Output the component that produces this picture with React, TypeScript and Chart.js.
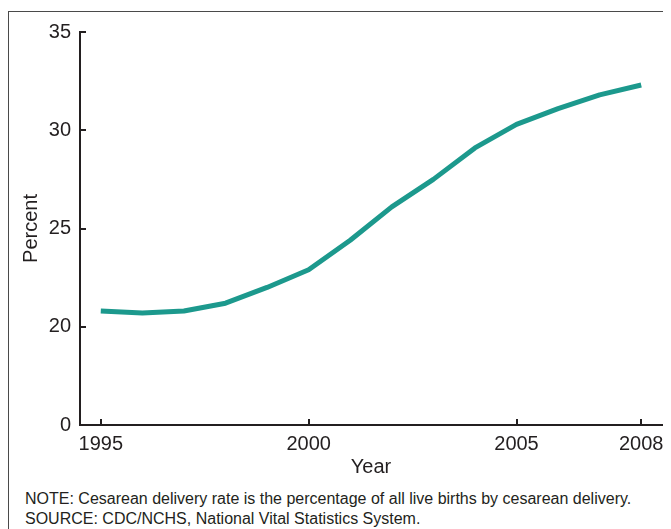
import React, { useEffect, useRef } from "react";
import { Chart, registerables } from "chart.js";

Chart.register(...registerables);

const years = [1995, 1996, 1997, 1998, 1999, 2000, 2001, 2002, 2003, 2004, 2005, 2006, 2007, 2008];
const cesareanRate = [20.8, 20.7, 20.8, 21.2, 22.0, 22.9, 24.4, 26.1, 27.5, 29.1, 30.3, 31.1, 31.8, 32.3];
const xTickValues = [1995, 2000, 2005, 2008];
// broken axis: the bottom tick shows 0 but sits where 15 would be
const yTickValues = [15, 20, 25, 30, 35];
const yTickLabels = ["0", "20", "25", "30", "35"];
const noteLines = [
  "NOTE: Cesarean delivery rate is the percentage of all live births by cesarean delivery.",
  "SOURCE: CDC/NCHS, National Vital Statistics System.",
];

const FONT = '"Liberation Sans", Arial, Helvetica, sans-serif';
const INK = "#231f20";

const innerTicks = {
  id: "innerTicks",
  afterDraw(chart: any) {
    const { ctx, chartArea } = chart;
    const xs = chart.scales.x;
    const ys = chart.scales.y;
    ctx.save();
    ctx.strokeStyle = INK;
    ctx.lineWidth = 2;
    ctx.beginPath();
    xTickValues.forEach((v) => {
      const px = Math.round(xs.getPixelForValue(v));
      ctx.moveTo(px, chartArea.bottom);
      ctx.lineTo(px, chartArea.bottom - 6);
    });
    yTickValues.forEach((v) => {
      const py = Math.round(ys.getPixelForValue(v));
      ctx.moveTo(chartArea.left, py);
      ctx.lineTo(chartArea.left + 6, py);
    });
    ctx.stroke();
    ctx.restore();
  },
};

export default function App() {
  const ref = useRef<HTMLCanvasElement | null>(null);
  useEffect(() => {
    if (!ref.current) return;
    const chart = new Chart(ref.current, {
      type: "line",
      data: {
        datasets: [
          {
            data: years.map((y, i) => ({ x: y, y: cesareanRate[i] })),
            borderColor: "#1c998d",
            borderWidth: 5,
            pointRadius: 0,
            tension: 0,
            borderCapStyle: "butt",
            borderJoinStyle: "round",
          },
        ],
      },
      options: {
        animation: false,
        responsive: false,
        maintainAspectRatio: false,
        layout: { padding: { top: 32, right: 9, left: 0, bottom: 0 } },
        plugins: { legend: { display: false }, tooltip: { enabled: false } },
        scales: {
          x: {
            type: "linear",
            min: 1994.5,
            max: 2008.5,
            afterFit: (s: any) => {
              s.height = 55;
            },
            afterBuildTicks: (s: any) => {
              s.ticks = xTickValues.map((v) => ({ value: v }));
            },
            ticks: {
              autoSkip: false,
              maxRotation: 0,
              padding: 7,
              color: INK,
              font: { family: FONT, size: 20 },
              callback: (v: any) => String(v),
            },
            grid: { display: false, drawTicks: false },
            border: { display: true, color: INK, width: 2 },
            title: {
              display: true,
              text: "Year",
              color: INK,
              font: { family: FONT, size: 20 },
              padding: { top: 0, bottom: 1 },
            },
          },
          y: {
            type: "linear",
            min: 15,
            max: 35,
            afterFit: (s: any) => {
              s.width = 80;
            },
            afterBuildTicks: (s: any) => {
              s.ticks = yTickValues.map((v) => ({ value: v }));
            },
            ticks: {
              autoSkip: false,
              padding: 9,
              color: INK,
              font: { family: FONT, size: 20 },
              callback: (v: any) => {
                const i = yTickValues.indexOf(Number(v));
                return i >= 0 ? yTickLabels[i] : "";
              },
            },
            grid: { display: false, drawTicks: false },
            border: { display: true, color: INK, width: 2 },
            title: {
              display: true,
              text: "Percent",
              color: INK,
              font: { family: FONT, size: 20 },
              padding: { top: 19, bottom: 0 },
            },
          },
        },
      },
      plugins: [innerTicks],
    } as any);
    return () => chart.destroy();
  }, []);

  return (
    <div
      style={{
        position: "relative",
        width: 663,
        height: 521,
        overflow: "hidden",
        fontFamily: FONT,
      }}
    >
      <div
        style={{
          position: "absolute",
          left: 0,
          top: 3,
          width: 720,
          height: 600,
          border: "1px solid #4a4a4a",
          boxSizing: "border-box",
        }}
      />
      <canvas
        ref={ref}
        width={671}
        height={480}
        style={{ position: "absolute", left: -8, top: -8, width: 671, height: 480 }}
      />
      <div
        style={{
          position: "absolute",
          left: 17,
          top: 481,
          fontSize: 16,
          lineHeight: "20px",
          color: INK,
          whiteSpace: "nowrap",
        }}
      >
        {noteLines.map((t, i) => (
          <div key={i}>{t}</div>
        ))}
      </div>
    </div>
  );
}
